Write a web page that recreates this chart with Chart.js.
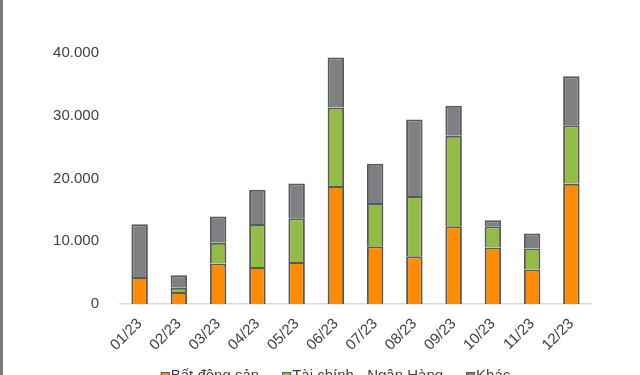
<!DOCTYPE html>
<html>
<head>
<meta charset="utf-8">
<script src="https://cdn.jsdelivr.net/npm/chart.js@4/dist/chart.umd.min.js"></script>
<style>
  html, body { margin: 0; padding: 0; background: #fff; overflow: hidden; width: 640px; height: 375px; }
  #edge { position: absolute; left: 0; top: 0; width: 3px; height: 375px; background: #7a7a7a; z-index: 2; }
  #wrap { position: absolute; left: 0; top: 0; width: 640px; height: 375px; }
</style>
</head>
<body>
<div id="edge"></div>
<div id="wrap"><canvas id="chart" width="640" height="375"></canvas></div>
<script>
// Monthly values by sector
const months = ['01/23', '02/23', '03/23', '04/23', '05/23', '06/23', '07/23', '08/23', '09/23', '10/23', '11/23', '12/23'];
const batDongSan = [4300, 1900, 6450, 5900, 6700, 18800, 9200, 7600, 12400, 9000, 5500, 19150];
const taiChinh = [0, 700, 3300, 6850, 6950, 12500, 6900, 9600, 14400, 3400, 3350, 9350];
const khac = [8400, 2000, 4200, 5450, 5550, 8000, 6250, 12200, 4800, 950, 2400, 7800];
const yTicks = [0, 10000, 20000, 30000, 40000];

const FONT = 'Liberation Sans, Arial, sans-serif';
const TEXT = '#404040';
const EDGE = '#595959';

function fmt(v) {
    return v.toString().replace(/\B(?=(\d{3})+(?!\d))/g, '.');
}

function series(label, data, color) {
    return {
        label: label,
        data: data,
        backgroundColor: color,
        borderColor: EDGE,
        borderWidth: 2,
        borderSkipped: 'start',
        inflateAmount: 0,
        barPercentage: 0.42,
        categoryPercentage: 1
    };
}

// Excel-like legend: square marker right against the text, sitting at the bottom edge
const bottomLegend = {
    id: 'bottomLegend',
    afterDraw(chart) {
        const c = chart.ctx;
        const sets = chart.data.datasets;
        const box = 9, gap = 1, spacing = 23, midX = 335.5, y = 376.5;
        c.save();
        c.font = '15px ' + FONT;
        c.textBaseline = 'middle';
        const widths = sets.map(d => box + gap + c.measureText(d.label).width);
        const total = widths.reduce((a, b) => a + b, 0) + spacing * (sets.length - 1);
        let x = midX - total / 2;
        sets.forEach((d, i) => {
            c.fillStyle = d.backgroundColor;
            c.fillRect(x, y - box / 2, box, box);
            c.strokeStyle = EDGE;
            c.lineWidth = 1;
            c.strokeRect(x + 0.5, y - box / 2 + 0.5, box - 1, box - 1);
            c.fillStyle = TEXT;
            c.fillText(d.label, x + box + gap, y - 1);
            x += widths[i] + spacing;
        });
        c.restore();
    }
};

const ctx = document.getElementById('chart').getContext('2d');
new Chart(ctx, {
    type: 'bar',
    data: {
        labels: months,
        datasets: [
            series('Bất động sản', batDongSan, '#FF8C00'),
            series('Tài chính - Ngân Hàng', taiChinh, '#93BC47'),
            series('Khác', khac, '#7F8083')
        ]
    },
    plugins: [bottomLegend],
    options: {
        responsive: false,
        animation: false,
        devicePixelRatio: 1,
        layout: { padding: { top: 53, right: 49, left: 0, bottom: 25 } },
        plugins: {
            tooltip: { enabled: false },
            legend: { display: false }
        },
        scales: {
            x: {
                stacked: true,
                grid: { display: false },
                border: { display: true, color: '#d9d9d9', width: 1.5 },
                ticks: {
                    font: { family: FONT, size: 15 },
                    color: TEXT,
                    minRotation: 45,
                    maxRotation: 45,
                    padding: 3
                },
                afterFit: s => { s.height = 46; }
            },
            y: {
                stacked: true,
                min: 0,
                max: 40000,
                grid: { display: false },
                border: { display: false },
                afterBuildTicks: s => { s.ticks = yTicks.map(v => ({ value: v })); },
                ticks: {
                    font: { family: FONT, size: 15 },
                    color: TEXT,
                    padding: 13,
                    callback: v => fmt(v)
                },
                afterFit: s => { s.width = 120; }
            }
        }
    }
});
</script>
</body>
</html>
